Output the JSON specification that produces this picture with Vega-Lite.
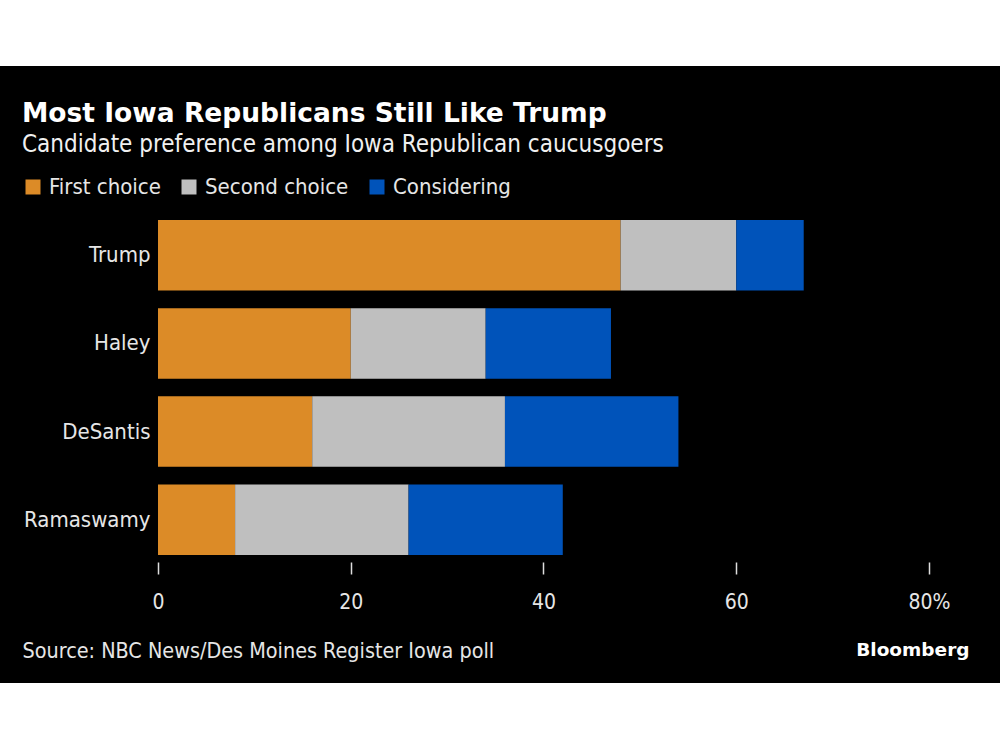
{
  "$schema": "https://vega.github.io/schema/vega-lite/v6.json",
  "width": 1000,
  "height": 617,
  "autosize": {"type": "none"},
  "padding": {"top": 66, "bottom": 67, "left": 0, "right": 0},
  "background": "white",
  "config": {
    "view": {"fill": "black", "stroke": null},
    "font": "DejaVu Sans Condensed, Liberation Sans Narrow, sans-serif"
  },
  "title": {
    "text": "Most Iowa Republicans Still Like Trump",
    "subtitle": "Candidate preference among Iowa Republican caucusgoers",
    "anchor": "start",
    "frame": "group",
    "offset": 0,
    "dx": 22,
    "dy": 91,
    "font": "DejaVu Sans",
    "fontSize": 26.5,
    "fontWeight": "bold",
    "color": "#FFFFFF",
    "subtitleFont": "DejaVu Sans Condensed, Liberation Sans Narrow, sans-serif",
    "subtitleFontSize": 24,
    "subtitleColor": "#F0F0F0",
    "subtitlePadding": 6
  },
  "data": {
    "values": [
      {"candidate": "Trump", "choice": "First choice", "rank": 1, "value": 48},
      {"candidate": "Trump", "choice": "Second choice", "rank": 2, "value": 12},
      {"candidate": "Trump", "choice": "Considering", "rank": 3, "value": 7},
      {"candidate": "Haley", "choice": "First choice", "rank": 1, "value": 20},
      {"candidate": "Haley", "choice": "Second choice", "rank": 2, "value": 14},
      {"candidate": "Haley", "choice": "Considering", "rank": 3, "value": 13},
      {"candidate": "DeSantis", "choice": "First choice", "rank": 1, "value": 16},
      {"candidate": "DeSantis", "choice": "Second choice", "rank": 2, "value": 20},
      {"candidate": "DeSantis", "choice": "Considering", "rank": 3, "value": 18},
      {"candidate": "Ramaswamy", "choice": "First choice", "rank": 1, "value": 8},
      {"candidate": "Ramaswamy", "choice": "Second choice", "rank": 2, "value": 18},
      {"candidate": "Ramaswamy", "choice": "Considering", "rank": 3, "value": 16}
    ]
  },
  "mark": {"type": "bar", "stroke": null},
  "encoding": {
    "y": {
      "field": "candidate",
      "type": "nominal",
      "sort": ["Trump", "Haley", "DeSantis", "Ramaswamy"],
      "scale": {"paddingInner": 0.2, "paddingOuter": 0.1, "range": [145.2, 497.8]},
      "axis": {
        "orient": "left",
        "offset": -158,
        "domain": false,
        "ticks": false,
        "labelPadding": 8,
        "labelFontSize": 22,
        "labelColor": "#E6E6E6",
        "labelFont": "DejaVu Sans Condensed, Liberation Sans Narrow, sans-serif",
        "title": "Bloomberg",
        "titleAngle": 0,
        "titleX": 811,
        "titleY": 589,
        "titleAlign": "right",
        "titleBaseline": "alphabetic",
        "titleFont": "DejaVu Sans",
        "titleFontSize": 18.5,
        "titleFontWeight": "bold",
        "titleColor": "#FFFFFF"
      }
    },
    "x": {
      "field": "value",
      "type": "quantitative",
      "stack": "zero",
      "scale": {"domain": [-16.394, 87.367], "nice": false, "zero": false},
      "axis": {
        "orient": "bottom",
        "offset": -121,
        "values": [0, 20, 40, 60, 80],
        "labelExpr": "datum.value == 80 ? '80%' : datum.label",
        "domain": false,
        "grid": false,
        "ticks": true,
        "tickSize": 12,
        "tickColor": "#DDDDDD",
        "tickWidth": 1.5,
        "labelPadding": 17,
        "labelFontSize": 21,
        "labelColor": "#E6E6E6",
        "labelFont": "DejaVu Sans Condensed, Liberation Sans Narrow, sans-serif",
        "title": "Source: NBC News/Des Moines Register Iowa poll",
        "titleX": 22,
        "titleY": 95,
        "titleAlign": "left",
        "titleAnchor": "start",
        "titleBaseline": "alphabetic",
        "titleFont": "DejaVu Sans Condensed, Liberation Sans Narrow, sans-serif",
        "titleFontSize": 21.4,
        "titleFontWeight": "normal",
        "titleColor": "#E6E6E6"
      }
    },
    "color": {
      "field": "choice",
      "type": "nominal",
      "scale": {
        "domain": ["First choice", "Second choice", "Considering"],
        "range": ["#DC8B27", "#BFBFBF", "#0053BA"]
      },
      "legend": {
        "orient": "none",
        "legendX": 22,
        "legendY": 110,
        "direction": "horizontal",
        "title": null,
        "symbolType": "square",
        "symbolSize": 225,
        "symbolStrokeWidth": 0,
        "symbolOpacity": 1,
        "labelFontSize": 22,
        "labelColor": "#E6E6E6",
        "labelFont": "DejaVu Sans Condensed, Liberation Sans Narrow, sans-serif",
        "labelOffset": 5,
        "columnPadding": 17
      }
    },
    "order": {"field": "rank", "type": "quantitative"}
  }
}
